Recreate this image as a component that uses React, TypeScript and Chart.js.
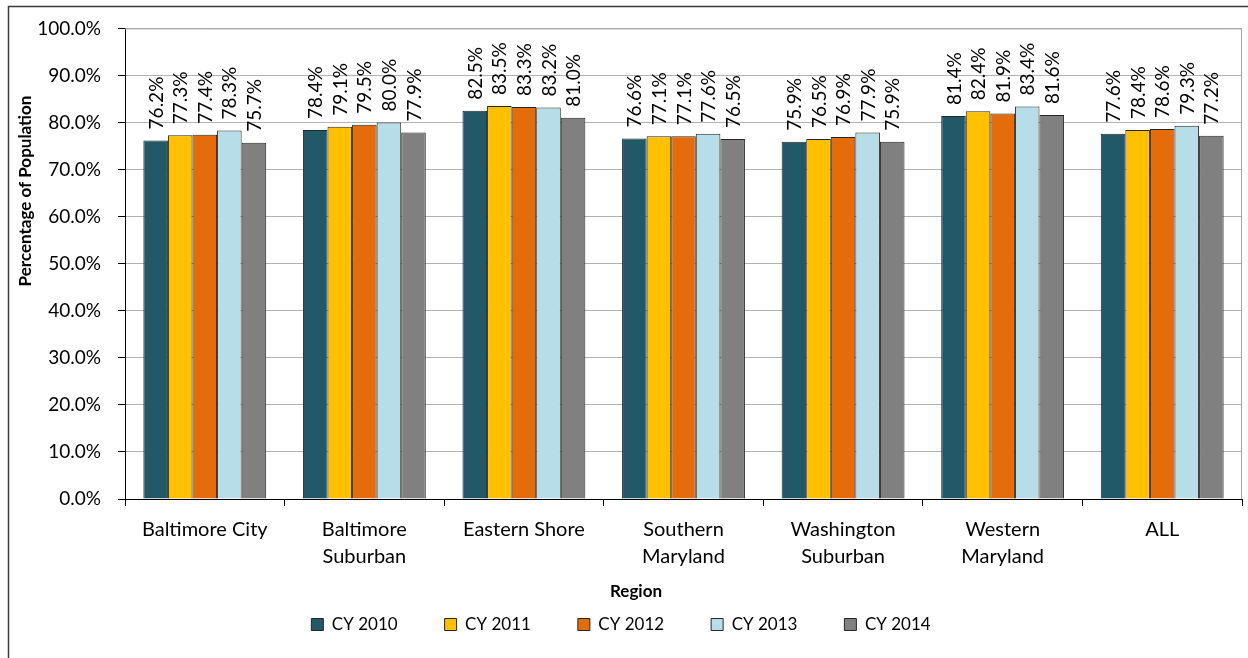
import React, { useEffect, useRef } from 'react';
import { Chart, registerables } from 'chart.js';

Chart.register(...registerables);

const categories: (string | string[])[] = [
  'Baltimore City',
  ['Baltimore', 'Suburban'],
  'Eastern Shore',
  ['Southern', 'Maryland'],
  ['Washington', 'Suburban'],
  ['Western', 'Maryland'],
  'ALL',
];

const seriesLabels = ['CY 2010', 'CY 2011', 'CY 2012', 'CY 2013', 'CY 2014'];
const cy2010 = [76.2, 78.4, 82.5, 76.6, 75.9, 81.4, 77.6];
const cy2011 = [77.3, 79.1, 83.5, 77.1, 76.5, 82.4, 78.4];
const cy2012 = [77.4, 79.5, 83.3, 77.1, 76.9, 81.9, 78.6];
const cy2013 = [78.3, 80.0, 83.2, 77.6, 77.9, 83.4, 79.3];
const cy2014 = [75.7, 77.9, 81.0, 76.5, 75.9, 81.6, 77.2];
const seriesColors = ['#215968', '#FFC000', '#E46C0A', '#B7DEE8', '#808080'];

const yMin = 0;
const yMax = 100;
const yStep = 10;
const yAxisTitle = 'Percentage of Population';
const xAxisTitle = 'Region';

const FONT = 'Lato, "Open Sans", sans-serif';

const chromePlugin = {
  id: 'chrome',
  beforeDraw(chart: any) {
    const ctx = chart.ctx;
    ctx.save();
    ctx.fillStyle = '#ffffff';
    ctx.fillRect(0, 0, chart.width, chart.height);
    ctx.strokeStyle = '#3a3a3a';
    ctx.lineWidth = 1.5;
    ctx.beginPath();
    ctx.moveTo(8.5, chart.height + 2);
    ctx.lineTo(8.5, 6.5);
    ctx.lineTo(chart.width + 2, 6.5);
    ctx.stroke();
    ctx.restore();
  },
  beforeDatasetsDraw(chart: any) {
    const { ctx, chartArea } = chart;
    ctx.save();
    ctx.strokeStyle = '#a6a6a6';
    ctx.lineWidth = 1;
    ctx.beginPath();
    ctx.moveTo(chartArea.left, chartArea.top + 0.5);
    ctx.lineTo(chartArea.right - 0.5, chartArea.top + 0.5);
    ctx.lineTo(chartArea.right - 0.5, chartArea.bottom);
    ctx.stroke();
    ctx.restore();
  },
  afterDraw(chart: any) {
    const ctx = chart.ctx;
    ctx.save();
    ctx.fillStyle = '#000';
    ctx.font = `bold 17px ${FONT}`;
    ctx.textAlign = 'center';
    ctx.textBaseline = 'middle';
    ctx.save();
    ctx.translate(26, 191);
    ctx.rotate(-Math.PI / 2);
    ctx.fillText(yAxisTitle, 0, 0);
    ctx.restore();
    ctx.fillText(xAxisTitle, 636, 592);
    ctx.restore();
  },
};

const labelPlugin = {
  id: 'barLabels',
  afterDatasetsDraw(chart: any) {
    const ctx = chart.ctx;
    ctx.save();
    ctx.fillStyle = '#000';
    ctx.font = `19px ${FONT}`;
    ctx.textAlign = 'left';
    ctx.textBaseline = 'middle';
    chart.data.datasets.forEach((ds: any, di: number) => {
      const meta = chart.getDatasetMeta(di);
      meta.data.forEach((bar: any, i: number) => {
        const v = ds.data[i];
        ctx.save();
        ctx.translate(bar.x + 1, bar.y - 11);
        ctx.rotate(-Math.PI / 2);
        ctx.fillText(`${v.toFixed(1)}%`, 0, 0);
        ctx.restore();
      });
    });
    ctx.restore();
  },
};

export default function App() {
  const canvasRef = useRef<HTMLCanvasElement | null>(null);

  useEffect(() => {
    const canvas = canvasRef.current;
    if (!canvas) return;
    const seriesData = [cy2010, cy2011, cy2012, cy2013, cy2014];
    const chart = new Chart(canvas, {
      type: 'bar',
      data: {
        labels: categories as any,
        datasets: seriesLabels.map((label, i) => ({
          label,
          data: seriesData[i],
          backgroundColor: seriesColors[i],
          borderColor: '#262626',
          borderWidth: 1,
          categoryPercentage: 0.77,
          barPercentage: 1,
        })),
      },
      options: {
        responsive: false,
        animation: false,
        devicePixelRatio: 1,
        layout: { padding: { top: 25, right: 6, bottom: 15, left: 0 } },
        plugins: {
          legend: {
            position: 'bottom',
            align: 'center',
            labels: {
              boxWidth: 12,
              boxHeight: 12,
              padding: 47,
              color: '#000',
              font: { family: FONT, size: 17 },
            },
          },
          title: { display: false },
          tooltip: { enabled: false },
        },
        scales: {
          x: {
            afterFit(scale: any) {
              scale.height = 70;
            },
            grid: {
              display: true,
              drawOnChartArea: false,
              drawTicks: true,
              tickLength: 7,
              tickColor: '#000',
              color: '#000',
            },
            border: { display: true, color: '#000', width: 1 },
            ticks: {
              color: '#000',
              padding: 10,
              maxRotation: 0,
              autoSkip: false,
              font: { family: FONT, size: 20, lineHeight: 1.36 },
            },
          },
          y: {
            min: yMin,
            max: yMax,
            afterFit(scale: any) {
              scale.width = 125;
            },
            grid: {
              color: '#b3b3b3',
              tickColor: '#000',
              tickLength: 7,
              drawTicks: true,
            },
            border: { display: true, color: '#000', width: 1 },
            ticks: {
              stepSize: yStep,
              color: '#000',
              padding: 17,
              font: { family: FONT, size: 19 },
              callback: (v: any) => `${Number(v).toFixed(1)}%`,
            },
          },
        },
      },
      plugins: [chromePlugin, labelPlugin],
    });
    return () => chart.destroy();
  }, []);

  return (
    <div style={{ position: 'fixed', left: 0, top: 0, width: 1248, height: 658 }}>
      <canvas ref={canvasRef} width={1248} height={658} style={{ width: 1248, height: 658, display: 'block' }} />
    </div>
  );
}
